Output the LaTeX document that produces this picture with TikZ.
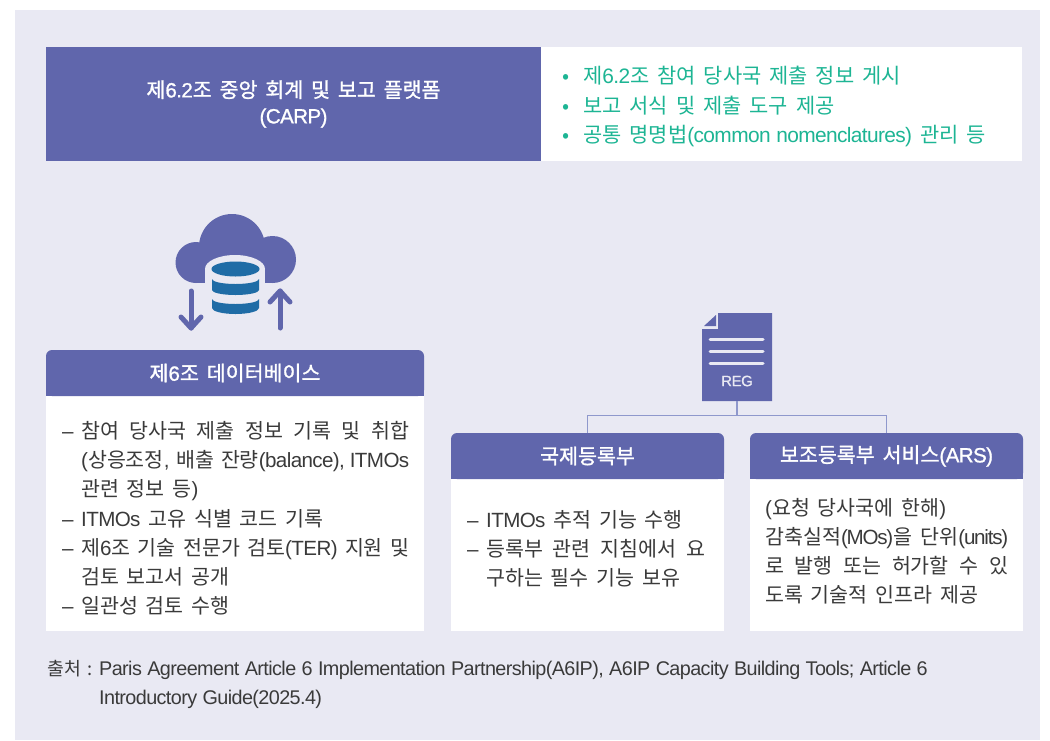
\documentclass[tikz,border=0pt]{standalone}
\usepackage{fontspec}
\setmainfont[WordSpace=1.7]{Noto Sans CJK KR}
\newfontfamily\headfont[WordSpace=1.7,FakeBold=1.3]{Noto Sans CJK KR}
\newfontfamily\latfont[LetterSpace=-3,WordSpace=1.1]{Liberation Sans}
\newfontfamily\lattight[LetterSpace=-6]{Liberation Sans}
\newfontfamily\latheadfont[LetterSpace=-3,WordSpace=1.1,FakeBold=1]{Liberation Sans}
\usepackage{xcolor}
\usetikzlibrary{calc}
\definecolor{panelbg}{HTML}{E9E9F3}
\definecolor{violet}{HTML}{6066AC}
\definecolor{linkline}{HTML}{8F98CC}
\definecolor{mintgreen}{HTML}{1DB594}
\definecolor{dbblue}{HTML}{1F6CA6}
\definecolor{bodytext}{HTML}{3A3A3A}
\newcommand{\bodyfont}{\fontsize{20.6}{29.2}\selectfont}
\newcommand{\fitline}[2]{\makebox[#1][s]{#2}}
\newcommand{\lat}[1]{{\latfont #1}}
\newcommand{\lathead}[1]{{\latheadfont #1}}
\newcommand{\dashmark}{\makebox[19pt][l]{\lat{–}}}
\tikzset{
  headtext/.style={text=white, font=\headfont\fontsize{20.6}{26}\selectfont, align=center, inner sep=0pt},
  listtext/.style={text=bodytext, font=\bodyfont, align=left, anchor=north west, inner sep=0pt},
  headbox/.style={fill=violet, rounded corners=6pt, inner sep=0pt, minimum height=46pt},
  linkpath/.style={draw=linkline, line width=1.2pt},
  iconarrow/.style={draw=violet, line width=5pt, line cap=round, line join=round}
}
\begin{document}
\begin{tikzpicture}[x=1pt,y=-1pt]
  \useasboundingbox (0,0) rectangle (1050,740);
  % panel
  \fill[panelbg] (15,10) rectangle (1040,740);

  % CARP band
  \fill[violet] (46,47) rectangle (541,161);
  \fill[white] (541,47) rectangle (1022,161);
  \node[headtext] (carp) at (293.5,104) {제\lathead{6.2}조 중앙 회계 및 보고 플랫폼\\\lathead{(CARP)}};
  \node[listtext, text=mintgreen, font=\fontsize{20.9}{29.6}\selectfont] (carplist) at (562,66)
    {\makebox[21pt][l]{•}제\lat{6.2}조 참여 당사국 제출 정보 게시\\
     \makebox[21pt][l]{•}보고 서식 및 제출 도구 제공\\
     \makebox[21pt][l]{•}공통 명명법\lat{(common nomenclatures)} 관리 등};

  % cloud icon
  \fill[violet] (196,262.5) circle (20.5pt);
  \fill[violet] (232,247) circle (33pt);
  \fill[violet] (272.5,259.5) circle (23.5pt);
  \fill[violet] (196,250) rectangle (272.5,283);
  % cut out for the database
  \fill[panelbg] (205,269) rectangle (265,290);
  \fill[panelbg] (235,269) ellipse (30pt and 14pt);
  % database
  \fill[dbblue] (235.5,269) ellipse (24pt and 7.5pt);
  \fill[dbblue] (212,279) arc[start angle=180,end angle=360,x radius=23.5pt,y radius=5pt]
    -- (259,290) arc[start angle=0,end angle=-180,x radius=23.5pt,y radius=5pt] -- cycle;
  \fill[dbblue] (212,299) arc[start angle=180,end angle=360,x radius=23.5pt,y radius=5pt]
    -- (259,308) arc[start angle=0,end angle=-180,x radius=23.5pt,y radius=6pt] -- cycle;
  % arrows
  \draw[iconarrow] (191,291) -- (191,328);
  \draw[iconarrow] (181,317) -- (191,328) -- (201,317);
  \draw[iconarrow] (280,328) -- (280,291);
  \draw[iconarrow] (270,302) -- (280,291) -- (290,302);

  % database box
  \fill[white] (46,374) rectangle (424,631);
  \fill[violet] (46,374) rectangle (424,396);
  \node[headbox, minimum width=378pt] (dbhead) at (235,373) {};
  \node[headtext] (dbtitle) at (dbhead.center) {제\lathead{6}조 데이터베이스};
  \node[listtext] (dblist) at (62,421)
    {\fitline{347pt}{\dashmark 참여 당사국 제출 정보 기록 및 취합}\\
     \hspace*{19pt}\fitline{328pt}{\lat{(}상응조정\lat{,} 배출 잔량\lat{(balance), ITMOs}}\\
     \hspace*{19pt}관련 정보 등\lat{)}\\
     \dashmark\lat{ITMOs} 고유 식별 코드 기록\\
     \fitline{347pt}{\dashmark 제\lat{6}조 기술 전문가 검토\lat{(TER)} 지원 및}\\
     \hspace*{19pt}검토 보고서 공개\\
     \dashmark 일관성 검토 수행};

  % registry boxes
  \fill[white] (451,456) rectangle (724,631);
  \fill[violet] (451,456) rectangle (724,479);
  \node[headbox, minimum width=273pt] (intlhead) at (587.5,456) {};
  \node[headtext] (intltitle) at (intlhead.center) {국제등록부};
  \node[listtext] (intllist) at (467,510)
    {\dashmark\lat{ITMOs} 추적 기능 수행\\
     \fitline{238pt}{\dashmark 등록부 관련 지침에서 요}\\
     \hspace*{19pt}구하는 필수 기능 보유};

  \fill[white] (750,456) rectangle (1023,631);
  \fill[violet] (750,456) rectangle (1023,479);
  \node[headbox, minimum width=273pt] (arshead) at (886.5,456) {};
  \node[headtext] (arstitle) at (arshead.center) {보조등록부 서비스\lathead{(ARS)}};
  \node[listtext] (arslist) at (765,498)
    {\lat{(}요청 당사국에 한해\lat{)}\\
     \fitline{243pt}{감축실적{\lattight(MOs)}을 단위{\lattight(units)}}\\
     \fitline{243pt}{로 발행 또는 허가할 수 있}\\
     도록 기술적 인프라 제공};

  % REG document
  \fill[violet] (718,313) -- (772,313) -- (772,401) -- (702,401) -- (702,329) -- (718,329) -- cycle;
  \fill[violet] (704,326) -- (716,326) -- (716,315) -- cycle;
  \foreach \ly in {339,351,363}
    \draw[panelbg, line width=3pt, line cap=round] (710,\ly) -- (763,\ly);
  \node[text=panelbg, font=\latheadfont\fontsize{15}{17}\selectfont, inner sep=0pt] (reglabel) at (737,381) {REG};
  \coordinate (regfoot) at (737,401);
  \coordinate (regjoin) at (737,415.5);
  \draw[linkpath] (regfoot) -- (regjoin);
  \draw[linkpath] (regjoin) -| (intlhead.north);
  \draw[linkpath] (regjoin) -| (arshead.north);

  % source
  \node[listtext, font=\fontsize{19.8}{28.7}\selectfont] (source) at (47,660)
    {\makebox[52pt][l]{\fontsize{18.3}{28.7}\selectfont 출처 :}\lat{Paris Agreement Article 6 Implementation Partnership(A6IP), A6IP Capacity Building Tools; Article 6}\\
     \hspace*{52pt}\lat{Introductory Guide(2025.4)}};
\end{tikzpicture}
\end{document}
